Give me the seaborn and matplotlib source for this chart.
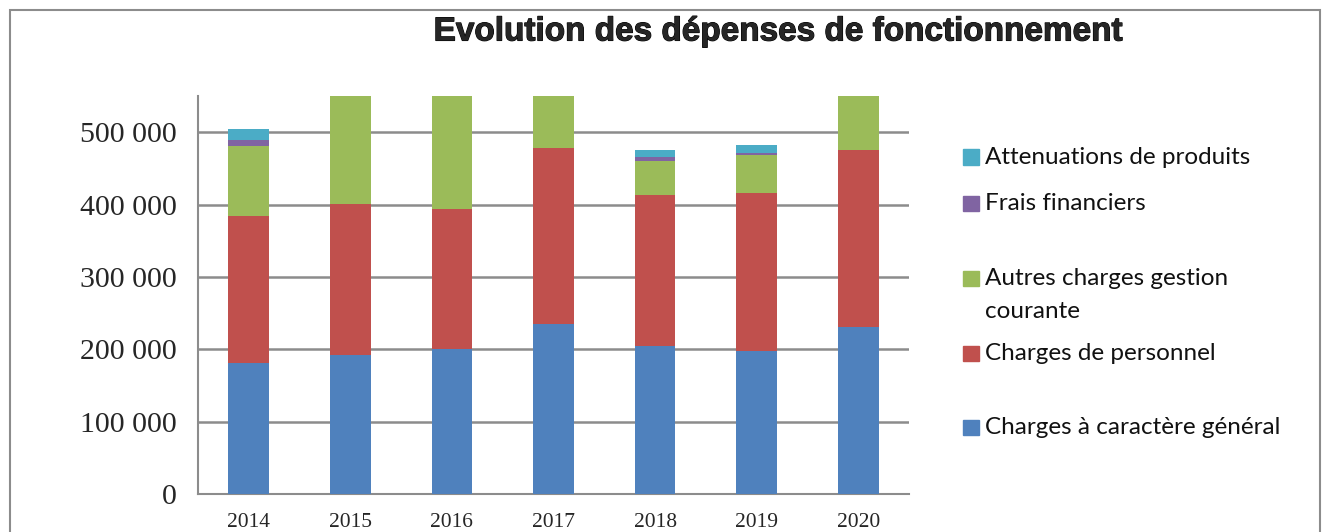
import numpy as np
import pandas as pd
import matplotlib
matplotlib.use("Agg")
import matplotlib.pyplot as plt
import matplotlib.patheffects as pe
import seaborn as sns
from matplotlib.patches import Rectangle

# data (values above 550 000 are clipped in the original)
years = ["2014", "2015", "2016", "2017", "2018", "2019", "2020"]
charges_general = [181000, 192500, 200500, 235000, 204500, 198000, 231000]
charges_personnel = [203500, 208000, 193500, 242500, 209000, 218000, 245000]
autres_charges = [97000, 180000, 190000, 100000, 47000, 53000, 100000]
frais_financiers = [7500, 6000, 6000, 5000, 5500, 2700, 4000]
attenuations = [15000, 12000, 12000, 10000, 8700, 10200, 10000]

series_names = ["Charges à caractère général", "Charges de personnel",
                "Autres charges gestion\ncourante", "Frais financiers",
                "Attenuations de produits"]
series_vals = [charges_general, charges_personnel, autres_charges,
               frais_financiers, attenuations]
colors = ["#4F81BD", "#C0504D", "#9BBB59", "#8064A2", "#4BACC6"]

sns.set_style("white")
W, H = 1327, 532
fig = plt.figure(figsize=(W / 100, H / 100), dpi=100)
ax = fig.add_axes([198 / W, 1 - 494 / H, (909 - 198) / W, (494 - 96) / H])

# stacked bars: draw cumulative totals, tallest first
cum = np.cumsum(np.array(series_vals), axis=0)
for i in range(len(series_vals) - 1, -1, -1):
    df = pd.DataFrame({"year": years, "val": cum[i]})
    sns.barplot(data=df, x="year", y="val", color=colors[i], width=0.4,
                saturation=1, ax=ax, zorder=3, edgecolor="none")

ax.set_ylim(0, 550000)
ax.set_xlim(-0.5, 6.5)
ax.set_yticks(range(0, 500001, 100000))
ax.set_yticklabels([f"{v:,}".replace(",", " ") for v in range(0, 500001, 100000)],
                   family="Liberation Serif", fontsize=21.5)
ax.set_xticks(range(len(years)))
ax.set_xticklabels(years, family="Liberation Serif", fontsize=15.5)
ax.set_xticks(np.arange(-0.5, 7, 1), minor=True)
ax.tick_params(axis="x", which="major", length=0, pad=14)
ax.tick_params(axis="x", which="minor", length=8, color="#8c8c8c", width=1.5, direction="out")
ax.tick_params(axis="y", length=9, color="#8c8c8c", width=1.5, direction="out", pad=6)
ax.set_xlabel("")
ax.set_ylabel("")
ax.yaxis.grid(True, color="#8c8c8c", linewidth=1.8, zorder=0)
ax.set_axisbelow(True)
for s in ["top", "right"]:
    ax.spines[s].set_visible(False)
for s in ["left", "bottom"]:
    ax.spines[s].set_color("#8c8c8c")
    ax.spines[s].set_linewidth(1.5)

fig.text(779 / W, 1 - 32 / H, "Evolution des dépenses de fonctionnement",
         ha="center", va="center", fontsize=24, fontweight="bold",
         family="Liberation Sans",
         path_effects=[pe.withStroke(linewidth=0.8, foreground="black")])

# legend, placed like the original
leg_y = [427, 353, 278, 204, 157]
for i in range(len(series_names) - 1, -1, -1):
    y = leg_y[i]
    fig.add_artist(Rectangle((963 / W, 1 - (y + 7.5) / H), 16 / W, 15 / H,
                             transform=fig.transFigure, color=colors[i]))
    ty = y + 17 if "\n" in series_names[i] else y
    fig.text(985 / W, 1 - ty / H, series_names[i], ha="left", va="center",
             fontsize=17.5, family="Lato", linespacing=1.65, color="#111111")

# outer frame
fig.add_artist(Rectangle((10 / W, -0.1), (1320 - 10) / W, 1.1 - 10 / H,
                         transform=fig.transFigure, fill=False,
                         edgecolor="#8c8c8c", linewidth=1.5))

fig.savefig("out.png", dpi=100)
